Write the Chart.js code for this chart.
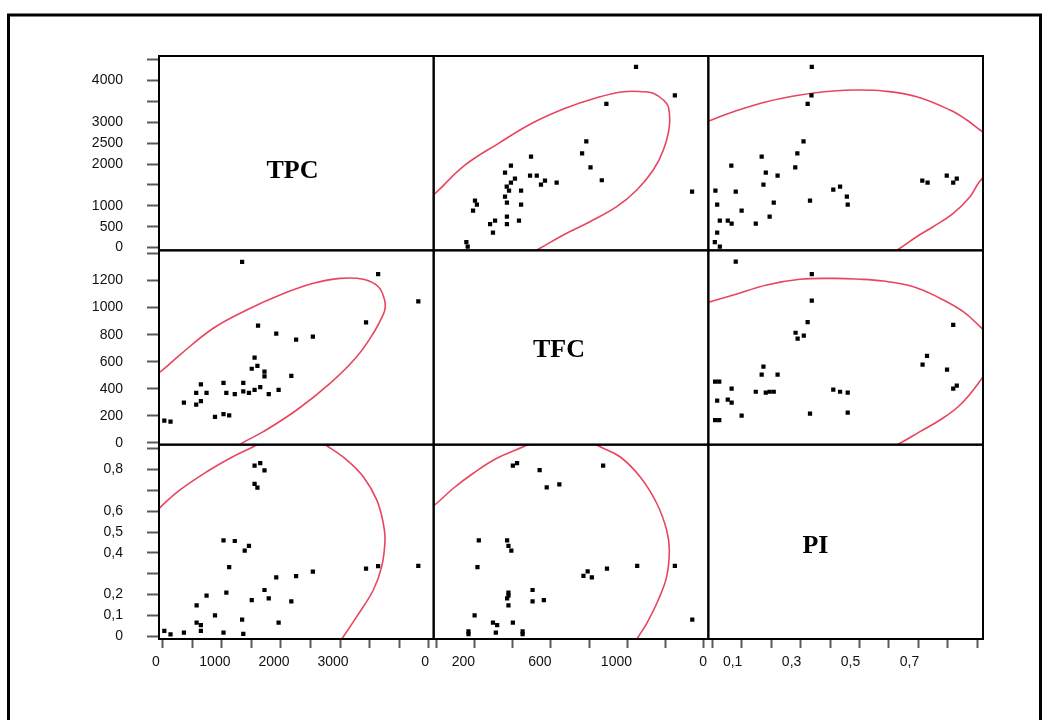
<!DOCTYPE html>
<html>
<head>
<meta charset="utf-8">
<script src="https://cdn.jsdelivr.net/npm/chart.js@4.4.1/dist/chart.umd.min.js"></script>
<style>
  body { margin: 0; background: #fff; }
  canvas { display: block; }
</style>
</head>
<body>
<canvas id="myChart" width="1048" height="720"></canvas>
<script>
// variable names on the diagonal
const varNames = ["TPC", "TFC", "PI"];

// TFC / TPC samples
const tfcA = [1045, 1248, 890, 785, 763, 807, 496, 391, 360, 491, 526, 412, 569, 391, 548, 630, 866, 369, 381, 444, 1338, 360, 370, 444, 203, 213, 193, 370, 433, 308, 282, 370, 297, 158, 165];
const tpcA = [4325, 3645, 3440, 2540, 2256, 1920, 2175, 1960, 1793, 1721, 1721, 1649, 1601, 1553, 1505, 1553, 1612, 1458, 1362, 1362, 1342, 1218, 1075, 1027, 1123, 1027, 883, 740, 644, 644, 565, 565, 357, 130, 25];

// PI / TPC samples
const piB = [0.338, 0.337, 0.324, 0.310, 0.289, 0.282, 0.168, 0.065, 0.182, 0.222, 0.174, 0.080, 0.011, 0.411, 0.434, 0.332, 0.457, 0.460, 0.017, 0.209, 0.100, 0.195, 0.026, 0.053, 0.066, 0.148, 0.017, 0.009, 0.026, 0.713, 0.731, 0.796, 0.830, 0.818];
const tpcB = [4325, 3645, 3440, 2540, 2256, 1920, 2175, 1960, 1793, 1721, 1505, 1342, 1362, 1386, 1458, 1123, 1218, 1027, 1027, 1075, 883, 740, 644, 644, 572, 572, 357, 130, 25, 1601, 1553, 1721, 1649, 1553];

// PI / TFC samples
const piC = [0.080, 0.338, 0.338, 0.324, 0.283, 0.290, 0.311, 0.818, 0.729, 0.714, 0.797, 0.830, 0.818, 0.174, 0.168, 0.222, 0.010, 0.024, 0.066, 0.148, 0.182, 0.195, 0.209, 0.411, 0.434, 0.460, 0.017, 0.053, 0.066, 0.100, 0.332, 0.460, 0.010, 0.024];
const tfcC = [1339, 1248, 1051, 893, 814, 770, 792, 873, 644, 578, 541, 423, 401, 563, 504, 504, 452, 452, 401, 378, 371, 378, 378, 393, 378, 371, 312, 319, 297, 201, 216, 223, 169, 169];

// confidence ellipse arcs as [x, y]
const arc12 = [[-40, 1160], [-4, 1300], [152, 1977], [327, 2496], [501, 2975], [675, 3334], [839, 3587], [978, 3731], [1083, 3731], [1135, 3693], [1188, 3532], [1214, 3372], [1219, 2893], [1188, 2336], [1135, 1857], [1049, 1379], [944, 979], [804, 620], [665, 302], [543, -16], [510, -100]];
const arc21 = [[-120, 500], [-2, 539], [290, 651], [854, 847], [1420, 982], [1983, 1093], [2547, 1179], [2999, 1216], [3394, 1209], [3648, 1154], [3752, 1060], [3764, 1000], [3732, 950], [3563, 810], [3282, 637], [2830, 440], [2266, 243], [1701, 83], [1335, -3], [1150, -60]];
const arc13Top = [[-0.03, 2990], [-0.002, 3054], [0.072, 3252], [0.185, 3492], [0.298, 3652], [0.411, 3748], [0.490, 3772], [0.581, 3748], [0.694, 3611], [0.807, 3293], [0.864, 3054], [0.909, 2814], [0.95, 2600]];
const arc13Low = [[0.96, 1950], [0.907, 1577], [0.875, 1218], [0.818, 821], [0.750, 500], [0.694, 261], [0.632, -40], [0.61, -120]];
const arc31Left = [[-100, 0.60], [-2, 0.630], [291, 0.702], [743, 0.789], [1137, 0.854], [1531, 0.909], [1750, 0.94]];
const arc31Right = [[2550, 0.95], [2801, 0.909], [3113, 0.846], [3394, 0.765], [3621, 0.654], [3732, 0.542], [3761, 0.462], [3705, 0.334], [3563, 0.222], [3282, 0.094], [3055, -0.002], [2950, -0.04]];
const arc23Top = [[-0.03, 1030], [0.002, 1049], [0.072, 1093], [0.185, 1167], [0.298, 1209], [0.411, 1216], [0.490, 1211], [0.581, 1196], [0.683, 1154], [0.773, 1069], [0.852, 970], [0.909, 859], [0.94, 790]];
const arc23Low = [[0.95, 600], [0.907, 452], [0.841, 280], [0.773, 169], [0.705, 83], [0.637, -3], [0.60, -40]];
const arc32Left = [[-40, 0.61], [3, 0.638], [90, 0.710], [194, 0.782], [317, 0.854], [456, 0.909], [520, 0.935]];
const arc32Right = [[800, 0.94], [857, 0.909], [961, 0.861], [1066, 0.765], [1153, 0.638], [1205, 0.510], [1219, 0.414], [1205, 0.286], [1161, 0.174], [1101, 0.062], [1057, -0.002], [1030, -0.04]];

// tick positions and the ones that carry a label
const tpcTicks = [0, 500, 1000, 1500, 2000, 2500, 3000, 3500, 4000, 4500];
const tfcTicks = [0, 200, 400, 600, 800, 1000, 1200, 1400];
const piTicks = [0, 0.1, 0.2, 0.3, 0.4, 0.5, 0.6, 0.7, 0.8, 0.9];
const tpcYLabels = [0, 500, 1000, 2000, 2500, 3000, 4000];
const tpcXLabels = [0, 1000, 2000, 3000];
const tfcYLabels = [0, 200, 400, 600, 800, 1000, 1200];
const tfcXLabels = [0, 200, 600, 1000];
const piYLabels = [0, 0.1, 0.2, 0.4, 0.5, 0.6, 0.8];
const piXLabels = [0, 0.1, 0.3, 0.5, 0.7];

const red = "#e8455f";
const tickFont = { family: "'Liberation Sans', Arial, sans-serif", size: 14 };

function tickText(v, shown) {
  const r = Math.round(v * 1000) / 1000;
  return shown.includes(r) ? String(r).replace(".", ",") : "";
}

function xAxis(min, max, list, weight, shown, shift) {
  return {
    type: "linear", position: "bottom", stack: "cols", weight: weight,
    min: min, max: max,
    border: { display: false },
    grid: { drawOnChartArea: false, tickLength: 9, tickColor: "#5a5a5a", tickWidth: 2 },
    afterBuildTicks: (s) => { s.ticks = list.map((v) => ({ value: v })); },
    ticks: {
      autoSkip: false, maxRotation: 0, labelOffset: shift,
      padding: 6, color: "#111", font: tickFont,
      callback: (v) => tickText(v, shown),
    },
    afterFit: (s) => { s.height = 81; },
  };
}

function yAxis(min, max, list, weight, shown) {
  return {
    type: "linear", position: "left", stack: "rows", weight: weight,
    min: min, max: max,
    border: { display: false },
    grid: { drawOnChartArea: false, tickLength: 12, tickColor: "#5a5a5a", tickWidth: 2 },
    afterBuildTicks: (s) => { s.ticks = list.map((v) => ({ value: v })); },
    ticks: {
      autoSkip: false,
      padding: 24, color: "#111", font: tickFont,
      callback: (v) => tickText(v, shown),
    },
    afterFit: (s) => { s.width = 139; },
  };
}

const pts = (xs, ys) => xs.map((x, i) => ({ x: x, y: ys[i] }));
const arc = (list) => list.map((p) => ({ x: p[0], y: p[1] }));

function dots(xs, ys, xId, yId) {
  return {
    data: pts(xs, ys), xAxisID: xId, yAxisID: yId,
    pointStyle: "rect", pointRadius: 3, backgroundColor: "#000", borderWidth: 0, order: 0,
  };
}

function curve(list, xId, yId) {
  return {
    data: arc(list), xAxisID: xId, yAxisID: yId,
    showLine: true, tension: 0.4, pointRadius: 0,
    borderColor: red, borderWidth: 1.6, order: 1,
  };
}

// panel borders, diagonal names and the outer frame
const matrixFrame = {
  id: "matrixFrame",
  beforeDraw(chart) {
    const ctx = chart.ctx;
    ctx.save();
    ctx.strokeStyle = "#000";
    ctx.lineWidth = 3;
    ctx.strokeRect(8.5, 15, 1032, 760);
    ctx.restore();
  },
  afterDatasetsDraw(chart) {
    const ctx = chart.ctx;
    const cols = ["xTPC", "xTFC", "xPI"].map((id) => chart.scales[id]);
    const rows = ["yTPC", "yTFC", "yPI"].map((id) => chart.scales[id]);
    const spots = [[0.486, 0.628], [0.456, 0.549], [0.39, 0.557]];
    ctx.save();
    ctx.strokeStyle = "#000";
    ctx.lineWidth = 2;
    rows.forEach((r) => cols.forEach((c) => {
      ctx.strokeRect(c.left, r.top, c.right - c.left, r.bottom - r.top);
    }));
    ctx.fillStyle = "#000";
    ctx.font = "bold 26px 'Liberation Serif', 'Times New Roman', serif";
    ctx.textAlign = "center";
    ctx.textBaseline = "alphabetic";
    varNames.forEach((name, i) => {
      const c = cols[i], r = rows[i];
      ctx.fillText(name, c.left + spots[i][0] * (c.right - c.left), r.top + spots[i][1] * (r.bottom - r.top));
    });
    ctx.restore();
  },
};

new Chart(document.getElementById("myChart"), {
  type: "scatter",
  data: {
    datasets: [
      dots(tfcA, tpcA, "xTFC", "yTPC"),
      dots(tpcA, tfcA, "xTPC", "yTFC"),
      dots(piB, tpcB, "xPI", "yTPC"),
      dots(tpcB, piB, "xTPC", "yPI"),
      dots(piC, tfcC, "xPI", "yTFC"),
      dots(tfcC, piC, "xTFC", "yPI"),
      curve(arc12, "xTFC", "yTPC"),
      curve(arc21, "xTPC", "yTFC"),
      curve(arc13Top, "xPI", "yTPC"),
      curve(arc13Low, "xPI", "yTPC"),
      curve(arc31Left, "xTPC", "yPI"),
      curve(arc31Right, "xTPC", "yPI"),
      curve(arc23Top, "xPI", "yTFC"),
      curve(arc23Low, "xPI", "yTFC"),
      curve(arc32Left, "xTFC", "yPI"),
      curve(arc32Right, "xTFC", "yPI"),
    ],
  },
  options: {
    responsive: false,
    animation: false,
    layout: { padding: { left: 20, top: 56, right: 65, bottom: 0 } },
    plugins: { legend: { display: false }, tooltip: { enabled: false } },
    scales: {
      xTPC: xAxis(-65, 4585, tpcTicks, 1, tpcXLabels, -7),
      xTFC: xAxis(-13, 1423, tfcTicks, 2, tfcXLabels, -11),
      xPI: xAxis(-0.013, 0.919, piTicks, 3, piXLabels, -9),
      yTPC: yAxis(-65, 4585, tpcTicks, 3, tpcYLabels),
      yTFC: yAxis(-13, 1423, tfcTicks, 2, tfcYLabels),
      yPI: yAxis(-0.013, 0.919, piTicks, 1, piYLabels),
    },
  },
  plugins: [matrixFrame],
});
</script>
</body>
</html>
